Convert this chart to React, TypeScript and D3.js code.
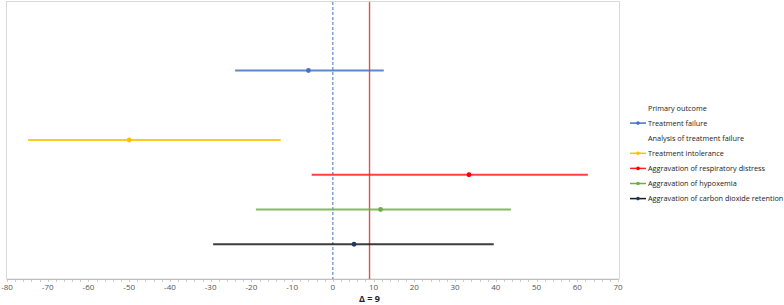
import React from "react";
import * as d3 from "d3";

const seriesNames = [
  "Treatment failure",
  "Treatment intolerance",
  "Aggravation of respiratory distress",
  "Aggravation of hypoxemia",
  "Aggravation of carbon dioxide retention",
];
const estimates = [-6, -50, 33.4, 11.7, 5.2];
const lowerCI = [-24, -74.8, -5.2, -18.9, -29.4];
const upperCI = [12.5, -12.8, 62.6, 43.7, 39.5];
const rowPositions = [2, 4, 5, 6, 7];
const lineColors = ["#4472C4", "#FFC000", "#FF2020", "#70AD47", "#1a1a1a"];
const pointColors = ["#4472C4", "#FFC000", "#FF0000", "#70AD47", "#203864"];
const xTicks = d3.range(-80, 71, 10);
const minorTicks = d3.range(-80, 71, 2);
const margin = 9;
const legendEntries = [
  { label: "Primary outcome", series: -1 },
  { label: "Treatment failure", series: 0 },
  { label: "Analysis of treatment failure", series: -1 },
  { label: "Treatment intolerance", series: 1 },
  { label: "Aggravation of respiratory distress", series: 2 },
  { label: "Aggravation of hypoxemia", series: 3 },
  { label: "Aggravation of carbon dioxide retention", series: 4 },
];

export default function App() {
  const W = 784;
  const H = 305;
  const x = d3.scaleLinear().domain([-80, 70]).range([7, 618]);
  const y = d3.scaleLinear().domain([0, 8]).range([1, 279]);
  const font = "'Open Sans', 'Liberation Sans', sans-serif";

  return (
    <svg
      width={W}
      height={H}
      style={{ position: "absolute", left: 0, top: 0, background: "#fff" }}
      fontFamily={font}
    >
      {/* plot border */}
      <rect x={6.5} y={1.5} width={613} height={277.5} fill="none" stroke="#d9d9d9" strokeWidth={1} />
      {/* axis */}
      <line x1={x(-80)} x2={x(70)} y1={279.5} y2={279.5} stroke="#bfbfbf" strokeWidth={1} />
      {minorTicks.map((t) => (
        <line key={"m" + t} x1={Math.round(x(t)) + 0.5} x2={Math.round(x(t)) + 0.5} y1={279} y2={282} stroke="#bfbfbf" strokeWidth={0.8} />
      ))}
      {xTicks.map((t) => (
        <text key={t} x={x(t)} y={290} fontSize={8} fill="#555" textAnchor="middle">
          {t}
        </text>
      ))}
      {/* reference lines */}
      <line x1={x(0)} x2={x(0)} y1={2} y2={279} stroke="#4472C4" strokeWidth={1} strokeDasharray="3,2" />
      <line x1={x(margin)} x2={x(margin)} y1={2} y2={279} stroke="#E05050" strokeWidth={1.4} />
      <text x={x(margin)} y={302} fontSize={9} fontWeight="bold" fill="#222" textAnchor="middle">
        Δ = {margin}
      </text>
      {/* series */}
      {seriesNames.map((n, i) => (
        <g key={n}>
          <line
            x1={x(lowerCI[i])}
            x2={x(upperCI[i])}
            y1={y(rowPositions[i])}
            y2={y(rowPositions[i])}
            stroke={lineColors[i]}
            strokeOpacity={0.85}
            strokeWidth={1.8}
          />
          <circle cx={x(estimates[i])} cy={y(rowPositions[i])} r={2.4} fill={pointColors[i]} />
        </g>
      ))}
      {/* legend */}
      {legendEntries.map((e, k) => {
        const ly = 108 + k * 15.1;
        return (
          <g key={e.label}>
            {e.series >= 0 && (
              <g>
                <line x1={630} x2={646} y1={ly} y2={ly} stroke={lineColors[e.series]} strokeWidth={1.5} />
                <circle cx={638} cy={ly} r={1.8} fill={pointColors[e.series]} />
              </g>
            )}
            <text x={648} y={ly + 2.6} fontSize={7.3} fill="#222">
              {e.label}
            </text>
          </g>
        );
      })}
    </svg>
  );
}
